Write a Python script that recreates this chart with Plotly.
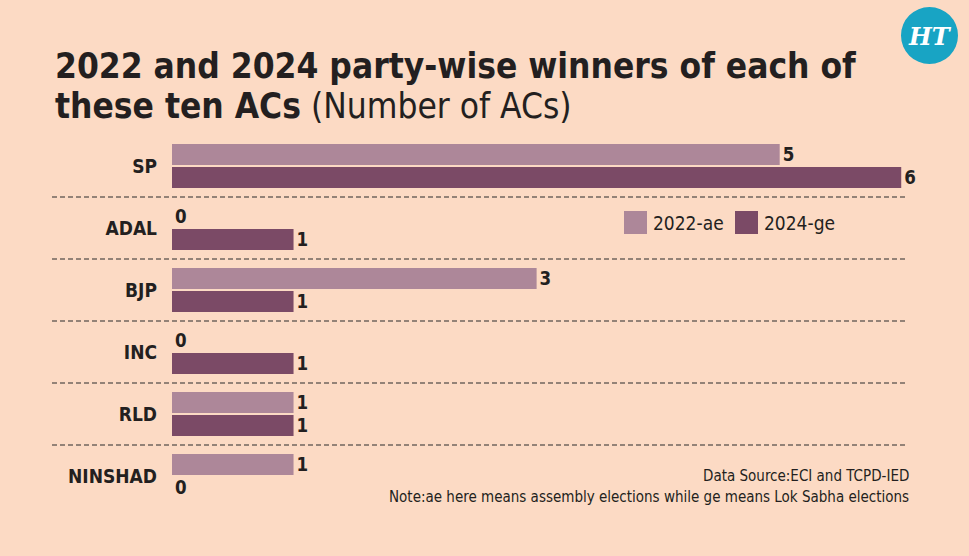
import plotly.graph_objects as go

categories = ["SP", "ADAL", "BJP", "INC", "RLD", "NINSHAD"]
wins_2022 = [5, 0, 3, 0, 1, 1]
wins_2024 = [6, 1, 1, 1, 1, 0]
series_names = ["2022-ae", "2024-ge"]

BG = "#FCDAC4"
C22 = "#AD8799"
C24 = "#7B4A66"
TXT = "#231F20"
FONT = "DejaVu Sans Condensed, Roboto, sans-serif"

fig = go.Figure()
for name, vals, col in [(series_names[0], wins_2022, C22), (series_names[1], wins_2024, C24)]:
    fig.add_trace(go.Bar(
        y=categories, x=vals, name=name, orientation="h",
        marker=dict(color=col, line=dict(width=0)),
        text=[str(v) for v in vals], textposition="outside",
        textfont=dict(family=FONT, size=22, color=TXT, weight="bold"),
        cliponaxis=False, showlegend=False,
    ))

W, H = 969, 556
L, R, T, B = 172, 7, 135, 49
pw, ph = W - L - R, H - T - B
def px(x): return (x - L) / pw
def py(y): return 1 - (y - T) / ph

shapes = []
for i in range(len(categories) - 1):
    shapes.append(dict(type="line", xref="paper", yref="y",
                       x0=px(52), x1=px(905), y0=i + 0.5, y1=i + 0.5,
                       line=dict(color="#2a2a2a", width=1, dash="5px,3px")))

annotations = []
for (x0, label, col) in [(624, series_names[0], C22), (735, series_names[1], C24)]:
    shapes.append(dict(type="rect", xref="paper", yref="paper",
                       x0=px(x0), x1=px(x0 + 23), y0=py(234), y1=py(211),
                       fillcolor=col, line=dict(width=0)))
    annotations.append(dict(xref="paper", yref="paper", x=px(x0 + 27), y=py(223),
                            text=label, showarrow=False, xanchor="left", yanchor="middle",
                            font=dict(family=FONT, size=19, color=TXT)))

annotations.append(dict(xref="paper", yref="paper", x=px(53), y=py(66), xanchor="left", yanchor="middle",
                        text="<b>2022 and 2024 party-wise winners of each of</b>", showarrow=False,
                        font=dict(family=FONT, size=35, color=TXT)))
annotations.append(dict(xref="paper", yref="paper", x=px(53), y=py(106), xanchor="left", yanchor="middle",
                        text="<b>these ten ACs</b> (Number of ACs)", showarrow=False,
                        font=dict(family=FONT, size=35, color=TXT)))
annotations.append(dict(xref="paper", yref="paper", x=px(911), y=py(476), xanchor="right", yanchor="middle",
                        text="Data Source:ECI and TCPD-IED", showarrow=False,
                        font=dict(family=FONT, size=15, color=TXT)))
annotations.append(dict(xref="paper", yref="paper", x=px(911), y=py(497), xanchor="right", yanchor="middle",
                        text="Note:ae here means assembly elections while ge means Lok Sabha elections", showarrow=False,
                        font=dict(family=FONT, size=15, color=TXT)))
shapes.append(dict(type="circle", xref="paper", yref="paper",
                   x0=px(901), x1=px(958), y0=py(64), y1=py(7),
                   fillcolor="#18A4C4", line=dict(width=0)))
annotations.append(dict(xref="paper", yref="paper", x=px(929.5), y=py(36), xanchor="center", yanchor="middle",
                        text="<b><i>HT</i></b>", showarrow=False,
                        font=dict(family="DejaVu Serif", size=24, color="white")))

fig.update_layout(
    width=W, height=H,
    margin=dict(l=L, r=R, t=T, b=B),
    paper_bgcolor=BG, plot_bgcolor=BG,
    barmode="group", bargap=0.26, bargroupgap=0.08,
    xaxis=dict(range=[0, 6.5], visible=False, fixedrange=True),
    yaxis=dict(autorange="reversed", showgrid=False, zeroline=False, ticks="",
               ticklabelstandoff=14,
               tickfont=dict(family=FONT, size=19, color=TXT, weight="bold")),
    shapes=shapes, annotations=annotations,
    font=dict(family=FONT, color=TXT),
)

fig.write_html("out.html")
